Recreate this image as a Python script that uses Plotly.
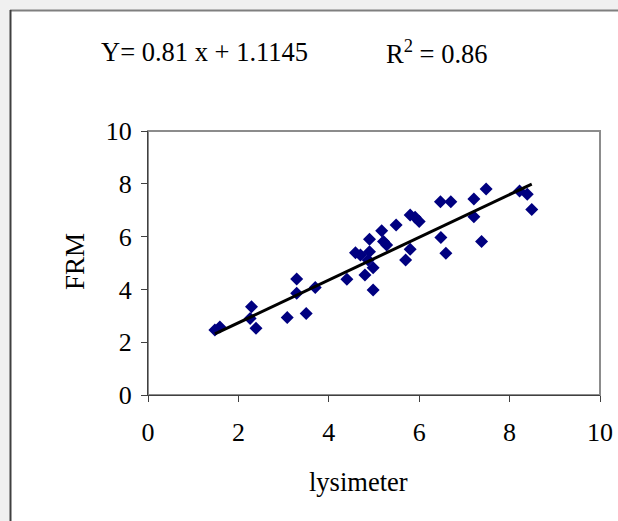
import plotly.graph_objects as go

# Data
lysimeter = [1.48, 1.59, 2.26, 2.29, 2.39, 3.08, 3.29, 3.29, 3.50, 3.70,
             4.40, 4.59, 4.70, 4.80, 4.87, 4.90, 4.90, 4.98, 4.98, 5.17,
             5.21, 5.28, 5.49, 5.70, 5.80, 5.80, 5.91, 6.00, 6.48, 6.59,
             6.47, 6.70, 7.21, 7.21, 7.38, 7.48, 8.22, 8.39, 8.49]
frm = [2.46, 2.58, 2.90, 3.34, 2.53, 2.94, 4.39, 3.85, 3.09, 4.07,
       4.38, 5.39, 5.30, 4.55, 5.11, 5.90, 5.43, 4.82, 3.98, 6.22,
       5.81, 5.68, 6.44, 5.11, 5.52, 6.82, 6.73, 6.57, 5.97, 5.37,
       7.32, 7.32, 7.42, 6.75, 5.81, 7.80, 7.73, 7.60, 7.03]
slope = 0.81
intercept = 1.1145
r_squared = 0.86
tick_vals = [0, 2, 4, 6, 8, 10]

trend_x = [min(lysimeter), max(lysimeter)]
trend_y = [slope * v + intercept for v in trend_x]

FONT = "Liberation Serif, Times New Roman, serif"
W, H = 618, 521
L, R, T, B = 148, 18, 131, 126
pw, ph = W - L - R, H - T - B

def px(p):
    return (p - L) / pw

def py(p):
    return (H - B - p) / ph

fig = go.Figure()
fig.add_trace(go.Scatter(x=lysimeter, y=frm, mode="markers",
                         marker=dict(symbol="diamond", size=10, color="#000080",
                                     line=dict(width=0)),
                         showlegend=False, cliponaxis=False))
fig.add_trace(go.Scatter(x=trend_x, y=trend_y, mode="lines",
                         line=dict(color="black", width=3),
                         showlegend=False))

shapes = [
    # white chart box
    dict(type="rect", xref="paper", yref="paper", x0=px(10), x1=px(640),
         y0=py(10), y1=py(540), fillcolor="white", line=dict(width=0), layer="below"),
    dict(type="line", xref="paper", yref="paper", x0=px(10), x1=px(640),
         y0=py(10.5), y1=py(10.5), line=dict(color="#7f7f7f", width=2), layer="below"),
    dict(type="line", xref="paper", yref="paper", x0=px(10.5), x1=px(10.5),
         y0=py(10), y1=py(540), line=dict(color="#404040", width=2), layer="below"),
    # plot area border
    dict(type="rect", xref="paper", yref="paper", x0=0, x1=1, y0=0, y1=1,
         line=dict(color="#8c8c8c", width=2), layer="below"),
]

annotations = [
    dict(text="Y= 0.81 x + 1.1145", x=px(99), y=py(52), xref="paper", yref="paper",
         xanchor="left", yanchor="middle", showarrow=False,
         font=dict(family=FONT, size=26.5, color="black")),
    dict(text="R<sup>2</sup> = %.2f" % r_squared, x=px(384), y=py(52), xref="paper", yref="paper",
         xanchor="left", yanchor="middle", showarrow=False,
         font=dict(family=FONT, size=26.5, color="black")),
    dict(text="lysimeter", x=px(358), y=py(482), xref="paper", yref="paper",
         xanchor="center", yanchor="middle", showarrow=False,
         font=dict(family=FONT, size=26.5, color="black")),
    dict(text="FRM", x=px(75), y=py(262), xref="paper", yref="paper",
         xanchor="center", yanchor="middle", showarrow=False, textangle=-90,
         font=dict(family=FONT, size=27, color="black")),
]

axis_common = dict(range=[0, 10], tickvals=tick_vals, ticks="outside", ticklen=6,
                   tickcolor="#404040", showline=True, linecolor="#404040", linewidth=1,
                   showgrid=False, zeroline=False, automargin=False,
                   tickfont=dict(family=FONT, size=26, color="black"))

fig.update_layout(
    width=W, height=H,
    margin=dict(l=L, r=R, t=T, b=B, pad=0, autoexpand=False),
    paper_bgcolor="#f0f0f0",
    plot_bgcolor="rgba(0,0,0,0)",
    shapes=shapes,
    annotations=annotations,
    font=dict(family=FONT, size=26, color="black"),
    xaxis=dict(axis_common, ticklabelstandoff=8),
    yaxis=dict(axis_common, ticklabelstandoff=4),
)

fig.write_html(
    "out.html",
    config={"displayModeBar": False, "responsive": False},
    post_script="document.body.style.margin='0';document.body.style.overflow='hidden';"
                "document.body.style.background='#f0f0f0';",
)
